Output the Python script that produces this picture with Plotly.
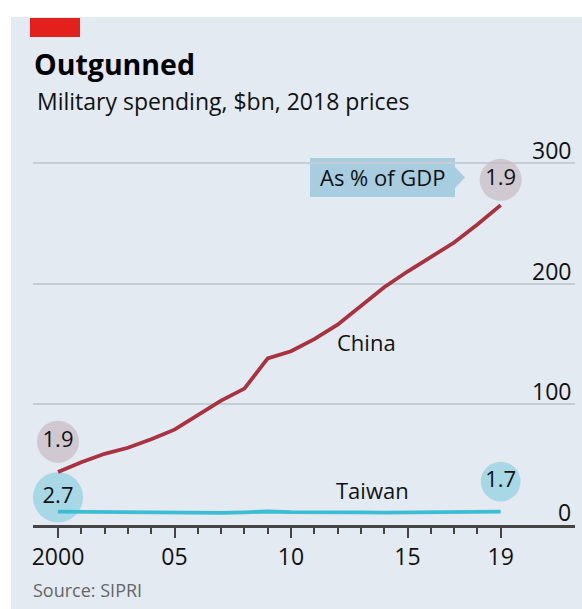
import plotly.graph_objects as go
import math

years = list(range(2000, 2020))
china = [44, 52, 59, 64, 71, 79, 91, 103, 113, 138, 144, 154, 166, 181, 197, 210, 222, 234, 249, 265]
taiwan = [11.0, 10.8, 10.4, 10.2, 10.2, 9.9, 9.6, 10.0, 10.5, 11.2, 10.7, 10.8, 10.7, 10.5, 10.3, 10.5, 10.5, 10.6, 10.8, 11.0]

gdp_years = [2000, 2019]
china_gdp = [1.9, 1.9]
taiwan_gdp = [2.7, 1.7]

ytick_vals = [0, 100, 200, 300]
xtick_vals = [2000, 2005, 2010, 2015, 2019]
xtick_text = ["2000", "05", "10", "15", "19"]

FONT = "Open Sans"
BG = "#e3eaf1"
RED = "#a8323f"
CYAN = "#3dbdd3"

# pixel geometry helpers (plot area: x 33..575, y 151..525)
L, R, T, B = 33, 7, 151, 84
W, H = 582, 609
PW, PH = W - L - R, H - T - B

def px(x):
    return (x - L) / PW

def py(y):
    return (H - B - y) / PH

fig = go.Figure()

def size(v):
    return 30.5 * math.sqrt(v)

# GDP-share circles (offset above line end points)
china_off = [25, 21]
taiwan_off = [12, 25]
fig.add_trace(go.Scatter(
    x=gdp_years, y=[china[0] + china_off[0], china[-1] + china_off[1]],
    mode="markers+text", text=[f"{v:.1f}" for v in china_gdp],
    marker=dict(size=[size(v) for v in china_gdp], color="#c8bac3", line=dict(width=0)),
    textfont=dict(family=FONT, size=22, color="#111"), textposition="middle center",
    hoverinfo="skip", cliponaxis=False))
fig.add_trace(go.Scatter(
    x=gdp_years, y=[taiwan[0] + taiwan_off[0], taiwan[-1] + taiwan_off[1]],
    mode="markers+text", text=[f"{v:.1f}" for v in taiwan_gdp],
    marker=dict(size=[size(v) for v in taiwan_gdp], color="#8fd0e0", line=dict(width=0)),
    textfont=dict(family=FONT, size=22, color="#111"), textposition="middle center",
    hoverinfo="skip", cliponaxis=False))

fig.add_trace(go.Scatter(x=years, y=china, mode="lines",
                         line=dict(color=RED, width=3.8), hoverinfo="skip"))
fig.add_trace(go.Scatter(x=years, y=taiwan, mode="lines",
                         line=dict(color=CYAN, width=3.8), hoverinfo="skip"))

shapes = [
    # panel background
    dict(type="rect", xref="paper", yref="paper", x0=px(11), x1=px(590), y0=py(17), y1=py(620),
         fillcolor=BG, line=dict(width=0), layer="below"),
    # red tag
    dict(type="rect", xref="paper", yref="paper", x0=px(30), x1=px(80), y0=py(18), y1=py(37),
         fillcolor="#e3201b", line=dict(width=0)),
    # "As % of GDP" box + arrow
    dict(type="rect", xref="paper", yref="paper", x0=px(310), x1=px(455), y0=py(158), y1=py(197),
         fillcolor="#a9cde0", line=dict(width=0), layer="below"),
    dict(type="path", xref="paper", yref="paper",
         path=f"M {px(455)},{py(167)} L {px(465)},{py(177.5)} L {px(455)},{py(188)} Z",
         fillcolor="#a9cde0", line=dict(width=0), layer="below"),
]

annotations = []
for v in ytick_vals:
    annotations.append(dict(x=1, xref="paper", y=v, yref="y", text=str(v), showarrow=False,
                            xanchor="right", yanchor="bottom", yshift=-5, xshift=-2,
                            font=dict(family=FONT, size=23, color="#111")))

annotations += [
    dict(x=px(32), y=py(64), xref="paper", yref="paper", text="<b>Outgunned</b>", showarrow=False,
         xanchor="left", yanchor="middle", font=dict(family=FONT, size=28.5, color="#000")),
    dict(x=px(35), y=py(101), xref="paper", yref="paper", text="Military spending, $bn, 2018 prices",
         showarrow=False, xanchor="left", yanchor="middle", font=dict(family=FONT, size=23, color="#111")),
    dict(x=px(31), y=py(590), xref="paper", yref="paper", text="Source: SIPRI",
         showarrow=False, xanchor="left", yanchor="middle", font=dict(family=FONT, size=18, color="#666")),
    dict(x=px(383), y=py(177), xref="paper", yref="paper", text="As % of GDP",
         showarrow=False, xanchor="center", yanchor="middle", font=dict(family=FONT, size=22, color="#111")),
    dict(x=px(366), y=py(342), xref="paper", yref="paper", text="China",
         showarrow=False, xanchor="center", yanchor="middle", font=dict(family=FONT, size=22, color="#111")),
    dict(x=px(372), y=py(490), xref="paper", yref="paper", text="Taiwan",
         showarrow=False, xanchor="center", yanchor="middle", font=dict(family=FONT, size=22, color="#111")),
]

x0 = 2000 - (58 - L) / 23.3
x1 = 2000 + (W - R - 58) / 23.3

fig.update_layout(
    width=W, height=H, margin=dict(l=L, r=R, t=T, b=B),
    paper_bgcolor="white", plot_bgcolor="rgba(0,0,0,0)",
    showlegend=False, shapes=shapes, annotations=annotations,
    font=dict(family=FONT),
    xaxis=dict(range=[x0, x1], tickvals=xtick_vals, ticktext=xtick_text,
               showgrid=False, zeroline=False, showline=True, linecolor="#444", linewidth=2.5,
               ticks="outside", ticklen=10, tickwidth=2, tickcolor="#444",
               tickfont=dict(family=FONT, size=23, color="#111"),
               minor=dict(tickvals=years, ticks="outside", ticklen=6, tickwidth=1.5, tickcolor="#444"),
               fixedrange=True),
    yaxis=dict(range=[0, PH / 1.207], tickvals=ytick_vals, showticklabels=False,
               showgrid=True, gridcolor="#c5ced7", gridwidth=1.5, zeroline=False, showline=False,
               ticks="", fixedrange=True),
)

fig.write_html("out.html", config={"displayModeBar": False},
               post_script="document.body.style.margin='0';document.body.style.overflow='hidden';")
